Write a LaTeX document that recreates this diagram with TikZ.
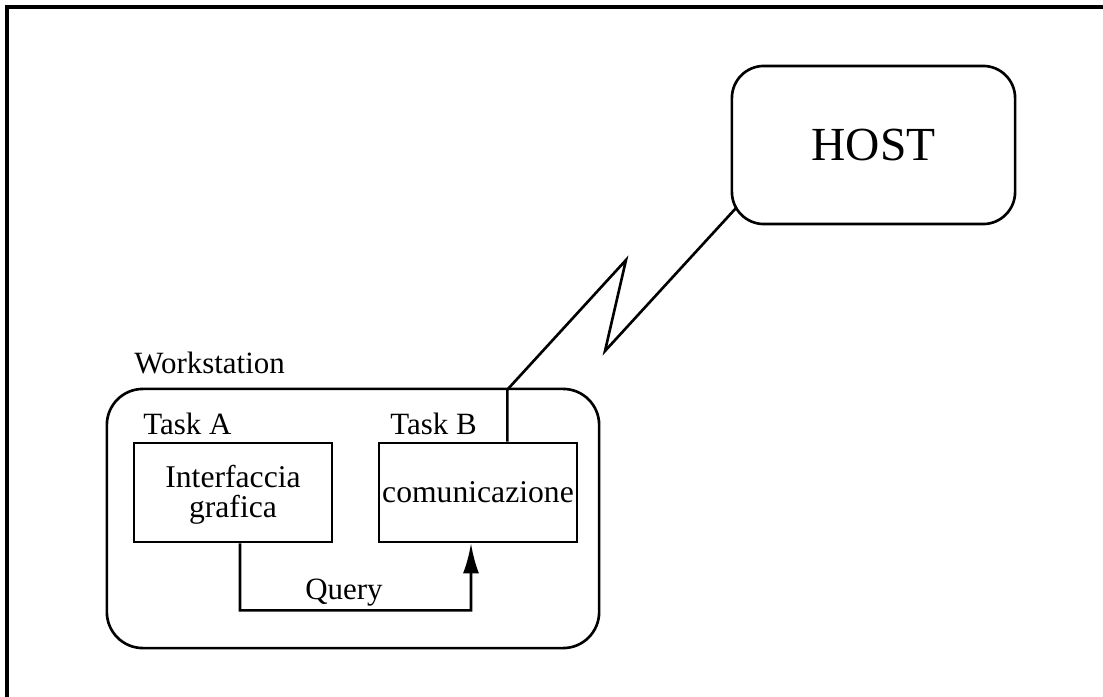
\documentclass[tikz,border=0pt]{standalone}
\usepackage{fontspec}
\setmainfont{Liberation Serif}
\usetikzlibrary{arrows.meta}
\begin{document}
\begin{tikzpicture}[x=0.01cm,y=-0.01cm,line width=0.75pt,
    taskbox/.style={draw,minimum width=1.98cm,minimum height=0.99cm,inner sep=0pt,align=center,font=\fontsize{9}{8.6}\selectfont},
    lbl/.style={inner sep=0pt,anchor=base west,font=\fontsize{8.8}{10}\selectfont}]
    \useasboundingbox (0,0) rectangle (1103,697);
    \draw[line width=0.9pt] (7,697) -- (7,7) -- (1103,7);
    \node[draw,rounded corners=0.32cm,minimum width=2.83cm,minimum height=1.58cm,font=\fontsize{13.5}{16}\selectfont] (host) at (873.5,145) {HOST};
    \node[draw,rounded corners=0.36cm,minimum width=4.92cm,minimum height=2.59cm] (ws) at (353,518.5) {};
    \node[lbl] (wslbl) at (133,373) {Workstation};
    \node[taskbox,text depth=0.03cm] (ta) at (233,492.5) {Interfaccia\\grafica};
    \node[taskbox] (tb) at (478,492.5) {comunicazione};
    \node[lbl] (talbl) at (142,434) {Task A};
    \node[lbl] (tblbl) at (389,434) {Task B};
    \draw ([xshift=-0.71cm]tb.north east) -- ++(0,-52) -- (626,260) -- (605,351) -- ([xshift=0.06cm,yshift=0.18cm]host.south west);
    \draw[-{Latex[length=0.3cm,width=0.16cm]}] ([xshift=0.07cm]ta.south) -- ++(0,67)
        -- node[lbl,anchor=base,pos=0.45,yshift=0.11cm] (query) {Query} ++(231,0) -- ([xshift=-0.07cm]tb.south);
\end{tikzpicture}
\end{document}
